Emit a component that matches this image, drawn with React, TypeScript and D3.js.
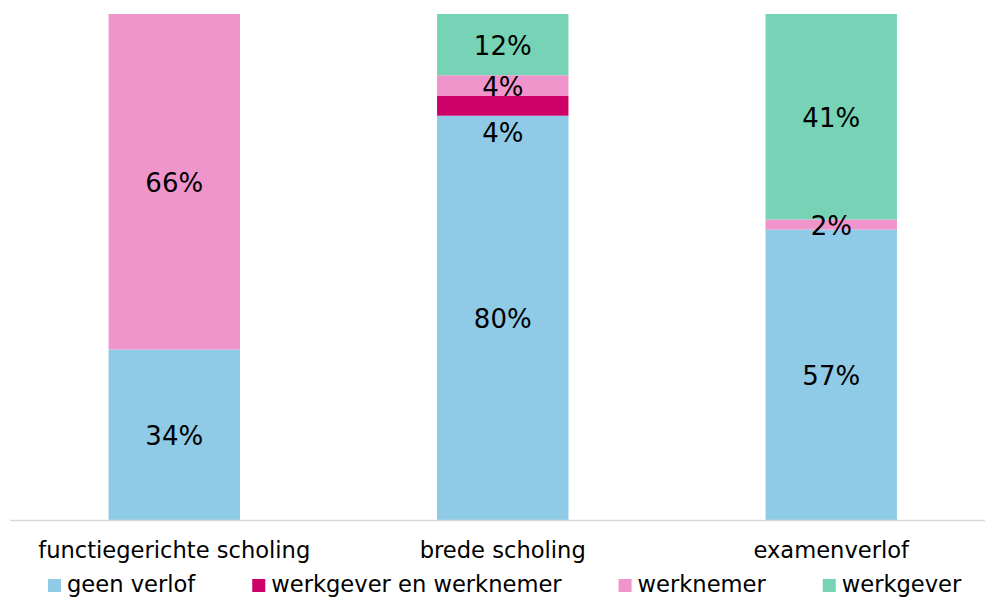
import React, { useEffect, useRef } from "react";
import * as d3 from "d3";

const categories = ["functiegerichte scholing", "brede scholing", "examenverlof"];
const seriesNames = ["geen verlof", "werkgever en werknemer", "werknemer", "werkgever"];
const geenVerlof = [33.7, 79.9, 57.4];
const werkgeverEnWerknemer = [0, 3.9, 0];
const werknemer = [66.3, 4.1, 2.0];
const werkgever = [0, 12.1, 40.6];
const colors = ["#8fcae6", "#cc0066", "#f094cc", "#76d3b6"];

const W = 985;
const H = 598;

export default function App() {
  const ref = useRef<SVGSVGElement | null>(null);
  useEffect(() => {
    document.body.style.margin = "0";
    const svg = d3.select(ref.current);
    svg.selectAll("*").remove();
    const font = "'DejaVu Sans', Verdana, sans-serif";
    const x = d3.scaleBand<string>().domain(categories).range([10, 995.5]).paddingInner(0.6).paddingOuter(0.3);
    const y = d3.scaleLinear().domain([0, 100]).range([520, 14]);
    const series = [geenVerlof, werkgeverEnWerknemer, werknemer, werkgever];
    const rows = categories.map((c, i) => {
      const r: any = { cat: c };
      seriesNames.forEach((s, j) => (r[s] = series[j][i]));
      return r;
    });
    const stack = d3.stack<any>().keys(seriesNames)(rows);
    const g = svg.append("g");
    stack.forEach((layer, j) => {
      layer.forEach((d) => {
        const v = d[1] - d[0];
        if (v <= 0) return;
        g.append("rect")
          .attr("x", x(d.data.cat)!)
          .attr("width", x.bandwidth())
          .attr("y", y(d[1]))
          .attr("height", y(d[0]) - y(d[1]))
          .attr("fill", colors[j]);
      });
    });
    // axis line
    svg.append("line").attr("x1", 10).attr("x2", 985).attr("y1", 520.5).attr("y2", 520.5)
      .attr("stroke", "#d9d9d9").attr("stroke-width", 1.5);
    // labels
    stack.forEach((layer, j) => {
      layer.forEach((d) => {
        const v = d[1] - d[0];
        if (v <= 0) return;
        const cy = (y(d[0]) + y(d[1])) / 2 + (j === 1 ? 26 : 0);
        svg.append("text")
          .attr("x", x(d.data.cat)! + x.bandwidth() / 2)
          .attr("y", cy + 10.5)
          .attr("text-anchor", "middle")
          .attr("font-family", font)
          .attr("font-size", 26)
          .attr("fill", "#000")
          .text(Math.round(v) + "%");
      });
    });
    // category labels
    categories.forEach((c) => {
      svg.append("text")
        .attr("x", x(c)! + x.bandwidth() / 2)
        .attr("y", 558)
        .attr("text-anchor", "middle")
        .attr("font-family", font)
        .attr("font-size", 22.6)
        .attr("fill", "#000")
        .text(c);
    });
    // legend
    let lx = 48;
    seriesNames.forEach((s, j) => {
      svg.append("rect").attr("x", lx).attr("y", 579).attr("width", 13).attr("height", 13).attr("fill", colors[j]);
      const t = svg.append("text")
        .attr("x", lx + 19)
        .attr("y", 592)
        .attr("font-family", font)
        .attr("font-size", 22.6)
        .attr("fill", "#000")
        .text(s);
      const w = (t.node() as SVGTextElement).getComputedTextLength();
      lx = lx + 19 + w + 57;
    });
  }, []);
  return <svg ref={ref} width={W} height={H} style={{ display: "block" }} />;
}
